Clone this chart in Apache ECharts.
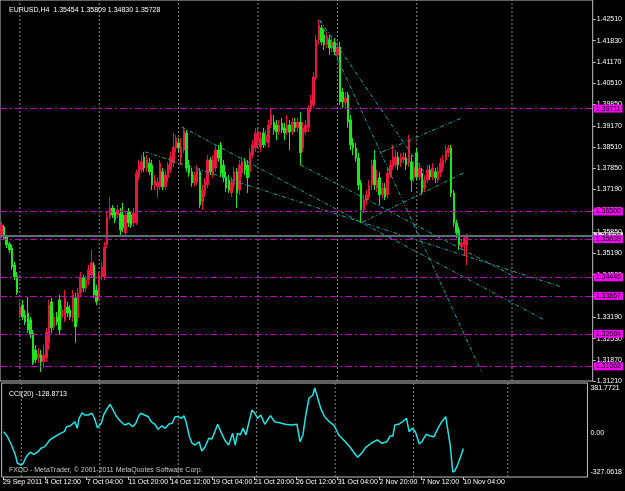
<!DOCTYPE html>
<html>
<head>
<meta charset="utf-8">
<script src="https://cdn.jsdelivr.net/npm/echarts@6/dist/echarts.min.js"></script>
<style>
html, body { margin: 0; padding: 0; background: #000; }
#chart { width: 625px; height: 491px; }
</style>
</head>
<body>
<div id="chart"></div>
<script>
// EURUSD H4, one entry per bar, 29 Sep 2011 20:00 .. 10 Nov 2011 04:00
const opens = [
    1.3577,1.3602,1.3571,1.3549,1.3536,1.3483,1.3449,
    1.3327,1.3358,1.3327,1.3333,1.3312,1.3271,1.3218,1.3193,1.3202,1.3181,1.3193,1.3240,1.3368,
    1.3290,1.3321,1.3374,1.3321,1.3312,1.3352,1.3343,1.3318,1.3380,1.3318,
    1.3396,1.3443,1.3411,1.3436,1.3452,1.3483,1.3405,1.3383,1.3446,1.3446,
    1.3546,1.3633,1.3661,1.3649,1.3639,1.3645,1.3639,1.3583,1.3649,1.3639,
    1.3614,1.3614,1.3758,1.3780,1.3820,1.3786,1.3801,1.3795,1.3733,1.3727,
    1.3727,1.3774,1.3727,1.3755,1.3780,1.3801,1.3848,1.3864,1.3817,1.3842,
    1.3895,1.3795,1.3774,1.3739,1.3742,1.3774,1.3680,1.3708,1.3733,1.3811,
    1.3764,1.3786,1.3842,1.3858,1.3795,1.3758,1.3748,1.3708,1.3733,1.3774,
    1.3717,1.3770,1.3805,1.3795,1.3774,1.3826,1.3848,1.3867,1.3851,1.3895,
    1.3867,1.3864,1.3920,1.3929,1.3920,1.3898,1.3926,1.3911,1.3898,1.3920,
    1.3898,1.3929,1.3911,1.3929,1.3848,1.3898,1.3911,1.3973,1.3982,1.4067,
    1.4185,1.4223,1.4201,1.4170,1.4185,1.4160,1.4179,1.4138,1.4163,1.4023,
    1.3989,1.4014,1.3936,1.3864,1.3848,1.3817,1.3739,1.3655,1.3686,1.3695,
    1.3733,1.3811,1.3723,1.3755,1.3702,1.3723,1.3702,1.3764,1.3789,1.3795,
    1.3820,1.3801,1.3811,1.3817,1.3801,1.3805,1.3755,1.3833,1.3758,1.3770,
    1.3723,1.3748,1.3780,1.3758,1.3774,1.3748,1.3770,1.3786,1.3811,1.3833,
    1.3848,1.3708,1.3614,1.3592,1.3539,1.3546,1.35454
];
const closes = [
    1.3608,1.3567,1.3546,1.3530,1.3477,1.3446,1.3396,
    1.3352,1.3321,1.3305,1.3280,1.3265,1.3177,1.3187,1.3206,1.3181,1.3202,1.3274,1.3358,1.3287,
    1.3321,1.3305,1.3280,1.3343,1.3380,1.3333,1.3321,1.3390,1.3290,1.3396,
    1.3446,1.3411,1.3436,1.3468,1.3489,1.3390,1.3368,1.3446,1.3477,1.3539,
    1.3633,1.3661,1.3639,1.3624,1.3655,1.3592,1.3599,1.3639,1.3614,1.3608,
    1.3645,1.3770,1.3795,1.3805,1.3786,1.3811,1.3774,1.3733,1.3748,1.3742,
    1.3801,1.3727,1.3764,1.3795,1.3820,1.3851,1.3879,1.3848,1.3851,1.3904,
    1.3786,1.3770,1.3739,1.3764,1.3780,1.3670,1.3717,1.3742,1.3811,1.3774,
    1.3811,1.3842,1.3817,1.3770,1.3755,1.3723,1.3717,1.3742,1.3774,1.3708,
    1.3795,1.3805,1.3780,1.3755,1.3833,1.3858,1.3895,1.3898,1.3879,1.3858,
    1.3889,1.3920,1.3951,1.3904,1.3898,1.3920,1.3904,1.3895,1.3920,1.3898,
    1.3929,1.3911,1.3929,1.3833,1.3911,1.3920,1.3973,1.3998,1.4070,1.4185,
    1.4232,1.4179,1.4170,1.4191,1.4160,1.4179,1.4148,1.4163,1.3992,1.3992,
    1.4004,1.3929,1.3858,1.3848,1.3817,1.3733,1.3655,1.3686,1.3702,1.3733,
    1.3795,1.3733,1.3748,1.3702,1.3723,1.3695,1.3770,1.3795,1.3820,1.3820,
    1.3795,1.3817,1.3820,1.3795,1.3873,1.3748,1.3789,1.3758,1.3786,1.3711,
    1.3748,1.3780,1.3758,1.3786,1.3755,1.3774,1.3801,1.3811,1.3842,1.3848,
    1.3708,1.3614,1.3583,1.3546,1.3552,1.3567,1.35728
];
const lows = [
    1.3567,1.3561,1.3536,1.3521,1.3468,1.3436,1.3390,
    1.3318,1.3312,1.3296,1.3271,1.3255,1.3171,1.3177,1.3177,1.3149,1.3162,1.3181,1.3218,1.3271,
    1.3280,1.3296,1.3265,1.3312,1.3305,1.3321,1.3312,1.3305,1.3240,1.3305,
    1.3383,1.3399,1.3399,1.3421,1.3443,1.3380,1.3358,1.3374,1.3436,1.3436,
    1.3536,1.3624,1.3630,1.3614,1.3630,1.3577,1.3586,1.3574,1.3602,1.3599,
    1.3602,1.3608,1.3748,1.3770,1.3774,1.3774,1.3764,1.3717,1.3717,1.3692,
    1.3717,1.3717,1.3717,1.3742,1.3770,1.3789,1.3836,1.3836,1.3795,1.3833,
    1.3774,1.3758,1.3727,1.3727,1.3733,1.3661,1.3655,1.3695,1.3723,1.3764,
    1.3755,1.3774,1.3805,1.3758,1.3742,1.3711,1.3708,1.3695,1.3723,1.3661,
    1.3702,1.3758,1.3764,1.3708,1.3758,1.3817,1.3836,1.3851,1.3836,1.3848,
    1.3851,1.3848,1.3911,1.3889,1.3873,1.3889,1.3895,1.3873,1.3889,1.3842,
    1.3889,1.3898,1.3898,1.3795,1.3836,1.3889,1.3898,1.3961,1.3973,1.4060,
    1.4170,1.4170,1.4154,1.4160,1.4138,1.4148,1.4138,1.4123,1.3982,1.3973,
    1.3973,1.3911,1.3842,1.3826,1.3805,1.3717,1.3614,1.3645,1.3670,1.3686,
    1.3717,1.3717,1.3711,1.3670,1.3692,1.3686,1.3692,1.3755,1.3780,1.3786,
    1.3780,1.3789,1.3801,1.3780,1.3789,1.3711,1.3742,1.3748,1.3748,1.3702,
    1.3711,1.3739,1.3748,1.3748,1.3739,1.3739,1.3758,1.3774,1.3801,1.3820,
    1.3695,1.3602,1.3567,1.3530,1.3530,1.3514,1.34830
];
const highs = [
    1.3617,1.3608,1.3577,1.3555,1.3546,1.3493,1.3461,
    1.3368,1.3374,1.3343,1.3383,1.3321,1.3280,1.3234,1.3224,1.3218,1.3234,1.3287,1.3374,1.3380,
    1.3333,1.3336,1.3390,1.3358,1.3405,1.3368,1.3358,1.3405,1.3396,1.3411,
    1.3461,1.3452,1.3449,1.3483,1.3530,1.3493,1.3421,1.3461,1.3493,1.3555,
    1.3649,1.3695,1.3670,1.3661,1.3670,1.3661,1.3677,1.3649,1.3661,1.3649,
    1.3661,1.3780,1.3811,1.3826,1.3836,1.3826,1.3817,1.3811,1.3764,1.3755,
    1.3811,1.3786,1.3780,1.3805,1.3836,1.3895,1.3889,1.3879,1.3879,1.3914,
    1.3904,1.3811,1.3786,1.3774,1.3795,1.3786,1.3733,1.3755,1.3826,1.3820,
    1.3826,1.3858,1.3858,1.3867,1.3811,1.3774,1.3764,1.3758,1.3789,1.3786,
    1.3811,1.3820,1.3817,1.3811,1.3848,1.3873,1.3911,1.3914,1.3898,1.3911,
    1.3904,1.3936,1.3973,1.3951,1.3936,1.3936,1.3942,1.3926,1.3951,1.3936,
    1.3942,1.3942,1.3942,1.3961,1.3929,1.3936,1.3982,1.4014,1.4085,1.4201,
    1.4248,1.4232,1.4216,1.4210,1.4201,1.4191,1.4191,1.4179,1.4179,1.4035,
    1.4023,1.4023,1.3951,1.3879,1.3864,1.3833,1.3748,1.3702,1.3717,1.3748,
    1.3811,1.3842,1.3780,1.3774,1.3739,1.3739,1.3786,1.3811,1.3858,1.3842,
    1.3836,1.3833,1.3836,1.3833,1.3889,1.3826,1.3805,1.3848,1.3801,1.3786,
    1.3764,1.3795,1.3795,1.3801,1.3786,1.3789,1.3817,1.3826,1.3858,1.3858,
    1.3858,1.3717,1.3624,1.3602,1.3561,1.3577,1.35809
];

// CCI(20): bar position, value
const cciBar = [
    0.25,1.75,3.25,4.75,5.5,7.0,7.8,8.9,10.4,11.9,
    13.4,14.5,16.0,17.9,19.8,22.0,23.5,24.3,25.8,26.5,
    27.5,28.4,29.1,30.3,31.2,32.5,34.0,35.0,36.1,37.6,
    38.5,39.9,40.9,42.1,43.3,45.1,46.6,48.1,49.6,50.8,
    51.8,52.6,54.1,55.6,56.6,58.1,59.3,60.8,62.0,63.5,
    64.7,65.8,67.0,68.3,69.2,70.0,71.3,72.3,73.5,75.0,
    76.0,77.3,78.7,79.9,81.0,82.1,83.3,84.8,86.3,87.8,
    88.8,89.7,90.7,91.8,92.9,94.1,95.2,96.3,97.4,98.6,
    100.1,101.6,102.3,103.8,105.7,108.0,110.2,112.4,113.6,114.7,
    115.8,117.0,118.5,119.2,120.2,121.5,123.0,124.8,126.7,128.4,
    130.3,132.6,134.1,135.6,137.1,138.6,140.8,143.1,144.9,146.8,
    148.0,149.1,149.8,151.3,152.8,154.3,155.3,156.5,157.7,159.2,
    160.2,161.8,163.3,164.8,166.3,167.8,169.3,169.9,171.0,172.0,
    172.8,173.8,175.0,176
];
const cciVal = [
    13,-30,-100,-184,-254,-268,-254,-198,-161,-178,
    -156,-127,-113,-57,-30,-1,13,55,63,55,
    97,41,126,173,154,154,168,126,46,84,
    154,210,244,196,145,97,69,84,55,84,
    139,168,154,139,97,75,33,63,41,78,
    84,139,139,126,148,97,-30,-85,-100,-72,
    -150,-114,-43,-49,13,75,13,-57,-100,-1,
    -100,-1,-15,41,-15,97,196,168,126,154,
    75,126,148,97,89,75,69,75,-72,-15,
    154,295,322,381.7721,308,210,139,97,63,-15,
    -57,-114,-161,-203,-170,-122,-85,-57,-85,-72,
    -24,-24,69,75,97,126,13,41,13,-91,
    -72,-9,-24,-30,41,97,139,126,-100,-327.0618,
    -318,-268,-198,-128.8713
];

// horizontal levels (magenta) and bid
const levels = [1.39711, 1.36500, 1.35639, 1.34446, 1.33867, 1.32684, 1.31668];
const bid = 1.35728;

// trend lines: [bar, price] start and end
const trendFrom = [[54.3, 1.3836], [68.2, 1.3914], [113.2, 1.3795], [120.3, 1.4248], [120.3, 1.4248], [136.5, 1.3617], [144.0, 1.3836]];
const trendTo = [[211.5, 1.3415], [205.1, 1.3312], [192.7, 1.3452], [181.5, 1.3149], [160.0, 1.3770], [174.7, 1.3770], [174.0, 1.3942]];

// axis ticks / labels
const priceTicks = [1.42510, 1.41830, 1.41170, 1.40510, 1.39850, 1.39170, 1.38510, 1.37850, 1.37190,
    1.36530, 1.35850, 1.35190, 1.34530, 1.33870, 1.33190, 1.32530, 1.31870, 1.31210];
const cciTicks = [381.7721, 0, -327.0618];
const dateLabels = ["29 Sep 2011", "4 Oct 12:00", "7 Oct 04:00", "11 Oct 20:00", "14 Oct 12:00", "19 Oct 04:00",
    "21 Oct 20:00", "26 Oct 12:00", "31 Oct 04:00", "2 Nov 20:00", "7 Nov 12:00", "10 Nov 04:00"];
const labelEvery = 16;
// vertical dotted grid, in bar units
const gridBars = [7, 37, 67, 97, 127, 157, 193];
const totalSlots = 224;

const font = "'Liberation Sans', Arial, sans-serif";
const fs = 7;
const bullColor = "#e8163c";
const bearColor = "#1ee61e";
const levelColor = "#c000c0";
const trendColor = "#1aa3a3";

const priceMin = 1.3121, priceMax = 1.4310;
const cciMin = -369.6, cciMax = 423.6;

const slots = Array.from({ length: totalSlots }, (_, i) => String(i));
const candles = opens.map((o, i) => [o, closes[i], lows[i], highs[i]]);
const last = opens.length - 1;

const labelAt = (idx) => idx % labelEvery === 0 && idx / labelEvery < dateLabels.length;

const chart = echarts.init(document.getElementById("chart"), null, { renderer: "canvas" });

// dotted grid verticals, one short line series each
const vGrid = (xi, yi, lo, hi) => gridBars.map(b => ({
    type: "line",
    xAxisIndex: xi,
    yAxisIndex: yi,
    data: [[b, lo], [b, hi]],
    symbol: "none",
    silent: true,
    z: 1,
    lineStyle: { color: "#8a8a8a", type: [2, 2], width: 1 }
}));

const plainText = { color: "#fff", fontSize: fs, fontWeight: "normal", fontFamily: font };

chart.setOption({
    backgroundColor: "#000",
    animation: false,
    textStyle: { fontFamily: font },
    title: [
        {
            text: `EURUSD,H4  ${opens[last].toFixed(5)} ${highs[last].toFixed(5)} ${lows[last].toFixed(5)} ${closes[last].toFixed(5)}`,
            left: 4, top: 2, textStyle: plainText
        },
        {
            text: `CCI(20) ${cciVal[cciVal.length - 1].toFixed(4)}`,
            left: 4, top: 386, textStyle: plainText
        },
        {
            text: "FXDD - MetaTrader, © 2001-2011 MetaQuotes Software Corp.",
            left: 4, top: 462, textStyle: { ...plainText, color: "#c8c8c8" }
        }
    ],
    grid: [
        { left: 0, top: 0, width: 597, height: 381, show: true, borderColor: "#c0c0c0", borderWidth: 1 },
        { left: 0, top: 383, width: 597, height: 94, show: true, borderColor: "#c0c0c0", borderWidth: 1 }
    ],
    xAxis: [
        {
            type: "category", gridIndex: 0, data: slots,
            axisLine: { show: false, onZero: false }, axisTick: { show: false }, axisLabel: { show: false }, splitLine: { show: false }
        },
        {
            type: "category", gridIndex: 1, data: slots, position: "bottom",
            axisLine: { show: false, onZero: false },
            axisTick: { show: true, interval: labelAt, alignWithLabel: true, length: 3, lineStyle: { color: "#c0c0c0" } },
            axisLabel: {
                interval: 0, align: "left", margin: 2,
                color: "#fff", fontSize: fs, fontFamily: font,
                formatter: (v, idx) => (labelAt(idx) ? dateLabels[idx / labelEvery] : "")
            },
            splitLine: { show: false }
        },
        { type: "value", gridIndex: 0, min: -0.5, max: totalSlots - 0.5, show: false, axisLine: { onZero: false } },
        { type: "value", gridIndex: 1, min: -0.5, max: totalSlots - 0.5, show: false, axisLine: { onZero: false } }
    ],
    yAxis: [
        {
            type: "value", gridIndex: 0, position: "right", min: priceMin, max: priceMax,
            axisLine: { show: false, onZero: false }, splitLine: { show: false },
            axisTick: { show: true, customValues: priceTicks, length: 3, lineStyle: { color: "#c0c0c0" } },
            axisLabel: {
                customValues: priceTicks, margin: 4, color: "#fff", fontSize: fs, fontFamily: font,
                formatter: v => v.toFixed(5)
            }
        },
        {
            type: "value", gridIndex: 1, position: "right", min: cciMin, max: cciMax,
            axisLine: { show: false, onZero: false }, splitLine: { show: false },
            axisTick: { show: false },
            axisLabel: {
                customValues: cciTicks, margin: 3, color: "#fff", fontSize: fs, fontFamily: font,
                formatter: v => (v === 0 ? "0.00" : String(v))
            }
        }
    ],
    series: [
        ...vGrid(2, 0, priceMin, priceMax),
        ...vGrid(3, 1, cciMin, cciMax),
        {
            type: "candlestick",
            xAxisIndex: 0, yAxisIndex: 0,
            data: candles,
            barWidth: 2,
            z: 3,
            itemStyle: {
                color: bullColor, color0: bearColor,
                borderColor: bullColor, borderColor0: bearColor, borderWidth: 1
            },
            markLine: {
                symbol: "none", silent: true, precision: 5,
                lineStyle: { color: "#5a7070", type: "solid", width: 2 },
                label: {
                    show: true, position: "end", distance: 1, formatter: bid.toFixed(5),
                    color: "#000", backgroundColor: "#d8d8d8", padding: [1, 2, 0, 2], fontSize: fs, fontFamily: font
                },
                data: [{ yAxis: bid }]
            }
        },
        {
            type: "line",
            xAxisIndex: 2, yAxisIndex: 0,
            data: [],
            silent: true,
            z: 4,
            markLine: {
                symbol: "none", silent: true, precision: 5,
                lineStyle: { color: levelColor, type: [7, 3, 2, 3], width: 1 },
                label: {
                    show: true, position: "end", distance: 1,
                    formatter: p => Number(p.value).toFixed(5),
                    color: "#000", backgroundColor: "#ff00ff", padding: [1, 2, 0, 2], fontSize: fs, fontFamily: font
                },
                data: levels.map(v => ({ yAxis: v }))
            }
        },
        ...trendFrom.map((p, i) => ({
            type: "line",
            xAxisIndex: 2, yAxisIndex: 0,
            data: [p, trendTo[i]],
            symbol: "none", silent: true,
            z: 4,
            lineStyle: { color: trendColor, type: [4, 2, 1, 2], width: 1 }
        })),
        {
            type: "line",
            xAxisIndex: 3, yAxisIndex: 1,
            data: cciBar.map((b, i) => [b, cciVal[i]]),
            symbol: "none", silent: true,
            z: 4,
            lineStyle: { color: "#22e4e4", width: 1.5 }
        }
    ]
});
</script>
</body>
</html>
